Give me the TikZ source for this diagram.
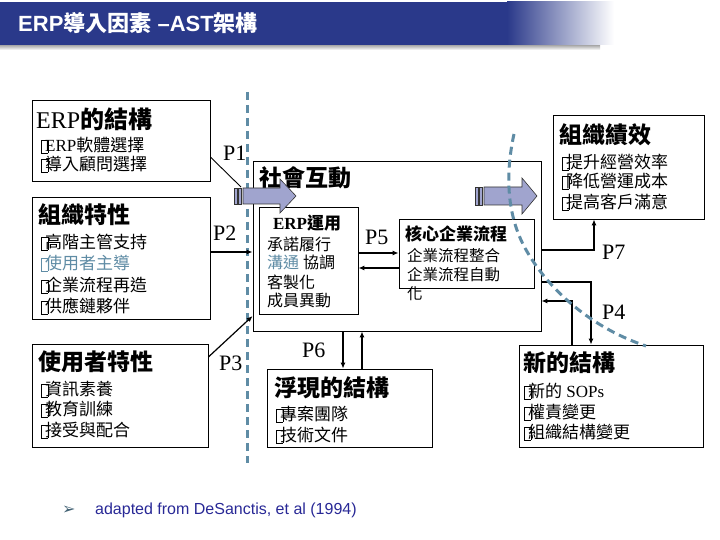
\documentclass[tikz,border=0pt]{standalone}
\usepackage{fontspec}
\setmainfont{Liberation Serif}
\setsansfont{Liberation Sans}
\newfontfamily\cjk{Noto Sans CJK TC}
\newfontfamily\djv{DejaVu Sans}
\usetikzlibrary{fit,arrows.meta}
\definecolor{titleblue}{RGB}{42,57,138}
\definecolor{dashblue}{RGB}{95,140,165}
\definecolor{arrowfill}{RGB}{160,164,206}
\definecolor{softblue}{RGB}{95,140,165}
\definecolor{notecol}{RGB}{40,40,150}
\newcommand\gbox{\raisebox{-1.5pt}{\setlength\fboxsep{0pt}\setlength\fboxrule{0.5pt}\fbox{\rule{0pt}{12pt}\rule{6pt}{0pt}}}\kern-3pt}
\newcommand\C[1]{{\cjk #1}}
\tikzset{
  box/.style={draw, line width=0.8pt, inner sep=0pt, fill=white},
  item/.style={anchor=west, inner sep=0pt, font=\fontsize{16}{19}\selectfont},
  ttl/.style={anchor=west, inner sep=0pt, font=\fontsize{23}{26}\selectfont\bfseries},
  plab/.style={anchor=west, inner sep=0pt, font=\fontsize{22}{24}\selectfont},
  conn/.style={line width=1.2pt, -{Latex[length=6pt,width=5pt]}},
  barrow/.style={fill=arrowfill, draw=black!80, line width=0.6pt},
  dashline/.style={draw=dashblue, line width=3pt, dash pattern=on 8pt off 5pt},
}
\begin{document}
\begin{tikzpicture}[x=1pt,y=-1pt]
\useasboundingbox (0,0) rectangle (720,540);
% title bar
\shade[top color=gray!70, bottom color=white] (0,45) rectangle (600,50);
\fill[titleblue] (0,2) rectangle (508,45);
\shade[left color=titleblue, right color=white] (507,2) rectangle (614,45);
\node[anchor=west, inner sep=0pt, text=white, font=\sffamily\bfseries\fontsize{22}{26}\selectfont] (title) at (18,23) {ERP{\cjk 導入因素} –AST{\cjk 架構}};

% dashed vertical line
\draw[dashline] (247,92) -- (247,463);

% boxes
\node[box, fit={(32,100) (210,181)}] (erpS) {};
\node[box, fit={(32,197) (210,319)}] (org) {};
\node[box, fit={(32,344) (208,447)}] (user) {};
\node[box, fit={(253,161) (541,331)}] (social) {};
\node[box, fit={(259,207) (358,314)}] (erpUse) {};
\node[box, fit={(399,219) (534,288)}] (core) {};
\node[box, fit={(553,115) (704,219)}] (perf) {};
\node[box, fit={(519,345) (703,447)}] (newS) {};
\node[box, fit={(267,369) (432,447)}] (emerg) {};

% ERP structure texts
\node[ttl, font=\fontsize{24}{26}\selectfont] (t1) at (36,119) {ERP{\cjk\bfseries 的結構}};
\node[item, font=\fontsize{17}{20}\selectfont] (t1a) at (41,145) {\gbox ERP\C{軟體選擇}};
\node[item, font=\fontsize{17}{20}\selectfont] (t1b) at (41,164) {\gbox\C{導入顧問選擇}};

\node[ttl] (t2) at (38,215) {\C{組織特性}};
\node[item, font=\fontsize{17}{20}\selectfont] (t2a) at (41,242) {\gbox\C{高階主管支持}};
\node[item, font=\fontsize{17}{20}\selectfont, text=softblue] (t2b) at (41,263) {\gbox\C{使用者主導}};
\node[item, font=\fontsize{17}{20}\selectfont] (t2c) at (41,285) {\gbox\C{企業流程再造}};
\node[item, font=\fontsize{17}{20}\selectfont] (t2d) at (41,306) {\gbox\C{供應鏈夥伴}};

\node[ttl] (t3) at (38,362) {\C{使用者特性}};
\node[item, font=\fontsize{17}{20}\selectfont] (t3a) at (41,389) {\gbox\C{資訊素養}};
\node[item, font=\fontsize{17}{20}\selectfont] (t3b) at (41,409) {\gbox\C{教育訓練}};
\node[item, font=\fontsize{17}{20}\selectfont] (t3c) at (41,430) {\gbox\C{接受與配合}};

% social interaction
\node[ttl] (t4) at (259,178) {\C{社會互動}};
\node[anchor=center, inner sep=0pt, font=\fontsize{17}{20}\selectfont\bfseries] (t5) at (307,223) {ERP{\cjk\bfseries 運用}};
\node[item] (t5a) at (267,244) {\C{承諾履行}};
\node[item] (t5b) at (267,262) {{\cjk\color{softblue}溝通} \C{協調}};
\node[item] (t5c) at (267,282) {\C{客製化}};
\node[item] (t5d) at (267,300) {\C{成員異動}};

\node[item, font=\fontsize{17}{20}\selectfont\bfseries] (t6) at (405,234) {\C{核心企業流程}};
\node[item, font=\fontsize{15.5}{18}\selectfont] (t6a) at (407,256) {\C{企業流程整合}};
\node[item, font=\fontsize{15.5}{18}\selectfont] (t6b) at (407,275) {\C{企業流程自動}};
\node[item, font=\fontsize{15.5}{18}\selectfont] (t6c) at (407,294) {\C{化}};

% performance
\node[ttl] (t7) at (559,135) {\C{組織績效}};
\node[item, font=\fontsize{17}{20}\selectfont] (t7a) at (562,162) {\gbox\C{提升經營效率}};
\node[item, font=\fontsize{17}{20}\selectfont] (t7b) at (562,181) {\gbox\C{降低營運成本}};
\node[item, font=\fontsize{17}{20}\selectfont] (t7c) at (562,202) {\gbox\C{提高客戶滿意}};

% new structure
\node[ttl] (t8) at (523,363) {\C{新的結構}};
\node[item, font=\fontsize{17}{20}\selectfont] (t8a) at (524,391) {\gbox\C{新的} SOPs};
\node[item, font=\fontsize{17}{20}\selectfont] (t8b) at (524,412) {\gbox\C{權責變更}};
\node[item, font=\fontsize{17}{20}\selectfont] (t8c) at (524,432) {\gbox\C{組織結構變更}};

% emergent structure
\node[ttl] (t9) at (274,388) {\C{浮現的結構}};
\node[item, font=\fontsize{17}{20}\selectfont] (t9a) at (276,414) {\gbox\C{專案團隊}};
\node[item, font=\fontsize{17}{20}\selectfont] (t9b) at (276,435) {\gbox\C{技術文件}};

% P labels
\node[plab] (p1) at (223,153) {P1};
\node[plab] (p2) at (213,233) {P2};
\node[plab] (p3) at (219,363) {P3};
\node[plab] (p5) at (365,237) {P5};
\node[plab] (p6) at (302,350) {P6};
\node[plab] (p7) at (602,252) {P7};
\node[plab] (p4) at (602,312) {P4};

% block arrows
\filldraw[barrow] (234,188) rectangle (237,204);
\filldraw[barrow] (238.5,188) rectangle (241.5,204);
\filldraw[barrow] (243,188) -- (280,188) -- (280,179) -- (296,196) -- (280,213) -- (280,204) -- (243,204) -- cycle;
\coordinate (a1tail) at (241,187);

\filldraw[barrow] (475,187) rectangle (478,205);
\filldraw[barrow] (479.5,187) rectangle (482.5,205);
\filldraw[barrow] (484,187) -- (522,187) -- (522,178) -- (537,196) -- (522,214) -- (522,205) -- (484,205) -- cycle;

% connectors
\draw[line width=0.9pt] (erpS.east |- 0,157) -- (a1tail);
\draw[conn, line width=2.2pt] (org.east |- 0,252) -- (social.west |- 0,252);
\draw[conn] (user.east |- 0,357) -- (social.west |- 0,316);
\draw[conn] (erpUse.east |- 0,253) -- (core.west |- 0,253);
\draw[conn] (core.west |- 0,268) -- (erpUse.east |- 0,268);
\draw[conn] (social.south -| 343,0) -- (emerg.north -| 343,0);
\draw[conn] (emerg.north -| 362,0) -- (social.south -| 362,0);
\draw[conn] (social.east |- 0,250) -| (perf.south -| 594,0);
\draw[conn] (social.east |- 0,282) -| (newS.north -| 591,0);
\draw[conn] (newS.north -| 572,0) |- (social.east |- 0,301);

% dashed curve (on top)
\draw[dashline] (514,134) .. controls (505,175) and (507,215) .. (525,248) .. controls (548,290) and (592,328) .. (646,346);

% note
\node[anchor=west, inner sep=0pt, text=softblue!70!black, font=\djv\fontsize{16}{18}\selectfont] (bul) at (62,510) {➢};
\node[anchor=west, inner sep=0pt, text=notecol, font=\sffamily\fontsize{16}{18}\selectfont] (note) at (95,510) {adapted from DeSanctis, et al (1994)};
\end{tikzpicture}
\end{document}
